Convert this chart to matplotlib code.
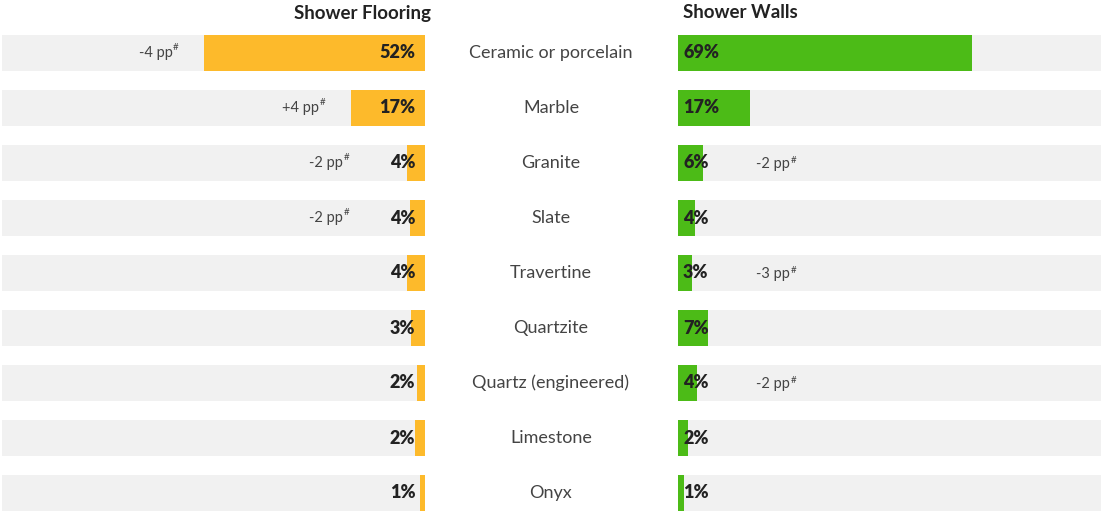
import matplotlib

matplotlib.use("Agg")
import matplotlib.pyplot as plt

# dados
MATERIAIS = [
    "Ceramic or porcelain",
    "Marble",
    "Granite",
    "Slate",
    "Travertine",
    "Quartzite",
    "Quartz (engineered)",
    "Limestone",
    "Onyx",
]
PISO = [52.2, 17.5, 4.3, 3.6, 4.3, 3.4, 1.9, 2.4, 1.2]
PISO_ROTULOS = ["52%", "17%", "4%", "4%", "4%", "3%", "2%", "2%", "1%"]
PISO_NOTAS = ["-4 pp", "+4 pp", "-2 pp", "-2 pp", "", "", "", "", ""]

PAREDE = [69.5, 17.0, 5.9, 4.0, 3.4, 7.1, 4.4, 2.4, 1.4]
PAREDE_ROTULOS = ["69%", "17%", "6%", "4%", "3%", "7%", "4%", "2%", "1%"]
PAREDE_NOTAS = ["", "", "-2 pp", "", "-3 pp", "", "-2 pp", "", ""]

AMARELO = "#FDBA2B"
VERDE = "#4CBB17"
FUNDO = "#F1F1F1"
TEXTO = "#222222"
CINZA = "#444444"

plt.rcParams["font.family"] = ["Lato", "DejaVu Sans"]

W, H = 1101, 513
fig = plt.figure(figsize=(W / 100, H / 100), dpi=100)

n = len(MATERIAIS)
# linha i centrada em 53 + 55*i px
y_topo = -53 / 55
y_base = (H - 53) / 55
altura = 36 / 55

ax_e = fig.add_axes([2 / W, 0, 423 / W, 1])
ax_d = fig.add_axes([678 / W, 0, 423 / W, 1])

for ax in (ax_e, ax_d):
    ax.set_xlim(0, 100)
    ax.set_ylim(y_base, y_topo)
    ax.axis("off")
    ax.barh(range(n), [100] * n, height=altura, color=FUNDO, zorder=1)

ax_e.invert_xaxis()
ax_e.barh(range(n), PISO, height=altura, color=AMARELO, zorder=2)
ax_d.barh(range(n), PAREDE, height=altura, color=VERDE, zorder=2)


def nota(ax, x, y, texto, lado):
    if lado == "esq":
        cerq = ax.text(x, y - 0.02, "#", ha="right", va="bottom", fontsize=7,
                       color=CINZA, zorder=3)
        ax.annotate(texto, xy=(0, 0), xycoords=cerq, ha="right", va="top",
                    xytext=(-0.5, 4), textcoords="offset points",
                    fontsize=10.5, color=CINZA, zorder=3)
    else:
        t = ax.text(x, y + 0.02, texto, ha="left", va="center", fontsize=10.5,
                    color=CINZA, zorder=3)
        ax.annotate("#", xy=(1, 1), xycoords=t, ha="left", va="top",
                    xytext=(0.5, 1), textcoords="offset points",
                    fontsize=7, color=CINZA, zorder=3)


for i in range(n):
    ax_e.text(2.3, i, PISO_ROTULOS[i], ha="right", va="center",
              fontsize=13, fontweight="heavy", color=TEXTO, zorder=3)
    ax_d.text(1.2, i, PAREDE_ROTULOS[i], ha="left", va="center",
              fontsize=13, fontweight="heavy", color=TEXTO, zorder=3)
    if PISO_NOTAS[i]:
        nota(ax_e, max(PISO[i], 12) + 6, i, PISO_NOTAS[i], "esq")
    if PAREDE_NOTAS[i]:
        nota(ax_d, max(PAREDE[i], 12) + 6.5, i, PAREDE_NOTAS[i], "dir")
    fig.text(551 / W, 1 - (53 + 55 * i) / H, MATERIAIS[i], ha="center",
             va="center", fontsize=13, color=CINZA)

fig.text(363 / W, 1 - 13 / H, "Shower Flooring", ha="center", va="center",
         fontsize=13.5, fontweight="bold", color=TEXTO)
fig.text(683 / W, 1 - 13 / H, "Shower Walls", ha="left", va="center",
         fontsize=13.5, fontweight="bold", color=TEXTO)

fig.savefig("out.png", dpi=100)
plt.close(fig)
